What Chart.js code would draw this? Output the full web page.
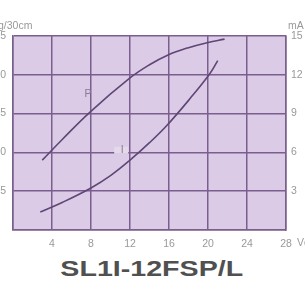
<!DOCTYPE html>
<html>
<head>
<meta charset="utf-8">
<script src="https://cdn.jsdelivr.net/npm/chart.js@4.4.1/dist/chart.umd.min.js"></script>
<style>
  html, body { margin: 0; padding: 0; background: #fff; overflow: hidden; width: 305px; height: 304px; }
  #wrap { position: absolute; left: -20px; top: 0; width: 345px; height: 255px; }
  #title { position: absolute; left: 0; top: 256px; width: 305px; text-align: center;
           font: bold 22px "Liberation Sans", Arial, sans-serif; color: #505050;
           transform: scaleX(1.3); transform-origin: 155px 0; }
</style>
</head>
<body>
<div id="wrap"><canvas id="chart"></canvas></div>
<div id="title">SL1I-12FSP/L</div>
<script>
// force curve P (left axis) and current curve I (right axis), against volts
const pVolts = [3.0, 5.0, 7.9, 12.0, 14.0, 15.8, 18.0, 19.8, 21.7];
const pForce = [9.0, 11.6, 15.2, 19.6, 21.3, 22.5, 23.5, 24.1, 24.6];
const iVolts = [2.8, 5.1, 8.0, 10.0, 12.0, 14.0, 15.8, 18.2, 20.2, 21.0];
const iCurrent = [1.4, 2.15, 3.25, 4.2, 5.4, 6.75, 8.1, 10.2, 12.1, 13.1];

const xTicks = [4, 8, 12, 16, 20, 24, 28];
const leftTicks = [5, 10, 15, 20, 25];
const rightTicks = [3, 6, 9, 12, 15];

const gridColor = '#7a5f8e';
const lineColor = '#5f4675';
const tickColor = '#999999';

const plotBg = {
  id: 'plotBg',
  beforeDraw(chart) {
    const { ctx, chartArea: a } = chart;
    ctx.save();
    ctx.fillStyle = '#dccbe7';
    ctx.fillRect(a.left, a.top, a.right - a.left, a.bottom - a.top);
    ctx.restore();
  }
};

const labels = {
  id: 'labels',
  afterDraw(chart) {
    const { ctx, scales } = chart;
    ctx.save();
    ctx.font = '10.5px "Liberation Sans", Arial, sans-serif';
    ctx.fillStyle = tickColor;
    ctx.textBaseline = 'middle';
    ctx.textAlign = 'left';
    ctx.fillText('g/30cm', 18, 26);
    ctx.fillText('mA', 308, 26);
    ctx.fillText('Vdc', 317, 243);
    // curve names
    ctx.fillStyle = '#8a7a94';
    ctx.textAlign = 'center';
    ctx.fillText('P', scales.x.getPixelForValue(7.7), scales.y.getPixelForValue(17.5));
    const ix = scales.x.getPixelForValue(11.2), iy = scales.y1.getPixelForValue(6.2);
    ctx.fillStyle = '#e4d9ea';
    ctx.fillRect(ix - 8, iy - 3, 14, 7);
    ctx.fillStyle = '#8a7a94';
    ctx.fillText('I', ix, iy);
    ctx.restore();
  }
};

const tickFont = { size: 10.5, family: '"Liberation Sans", Arial, sans-serif' };

new Chart(document.getElementById('chart'), {
  type: 'line',
  data: {
    datasets: [
      {
        label: 'P',
        data: pVolts.map((v, i) => ({ x: v, y: pForce[i] })),
        yAxisID: 'y',
        borderColor: lineColor,
        borderWidth: 1.6,
        pointRadius: 0,
        tension: 0.4
      },
      {
        label: 'I',
        data: iVolts.map((v, i) => ({ x: v, y: iCurrent[i] })),
        yAxisID: 'y1',
        borderColor: lineColor,
        borderWidth: 1.6,
        pointRadius: 0,
        tension: 0.4
      }
    ]
  },
  options: {
    responsive: true,
    maintainAspectRatio: false,
    animation: false,
    layout: { padding: { top: 36, left: 0, right: 0, bottom: 0 } },
    plugins: { legend: { display: false }, tooltip: { enabled: false } },
    scales: {
      x: {
        type: 'linear', min: 0, max: 28,
        afterFit: s => { s.height = 25; },
        afterBuildTicks: s => { s.ticks = [0, ...xTicks].map(v => ({ value: v })); },
        grid: { color: gridColor, lineWidth: 1.5, drawTicks: false },
        border: { color: gridColor, width: 1.5 },
        ticks: { color: tickColor, font: tickFont, padding: 8,
                 callback: v => (v === 0 ? '' : v) }
      },
      y: {
        position: 'left', min: 0, max: 25,
        afterFit: s => { s.width = 33; },
        afterBuildTicks: s => { s.ticks = [0, ...leftTicks].map(v => ({ value: v })); },
        grid: { color: gridColor, lineWidth: 1.5, drawTicks: false },
        border: { color: gridColor, width: 1.5 },
        ticks: { color: tickColor, font: tickFont, padding: 7,
                 callback: v => (v === 0 ? '' : v) }
      },
      y1: {
        position: 'right', min: 0, max: 15,
        afterFit: s => { s.width = 39; },
        afterBuildTicks: s => { s.ticks = [0, ...rightTicks].map(v => ({ value: v })); },
        grid: { display: false, drawTicks: false },
        border: { color: gridColor, width: 1.5 },
        ticks: { color: tickColor, font: tickFont, padding: 5,
                 callback: v => (v === 0 ? '' : v) }
      }
    }
  },
  plugins: [plotBg, labels]
});
</script>
</body>
</html>
